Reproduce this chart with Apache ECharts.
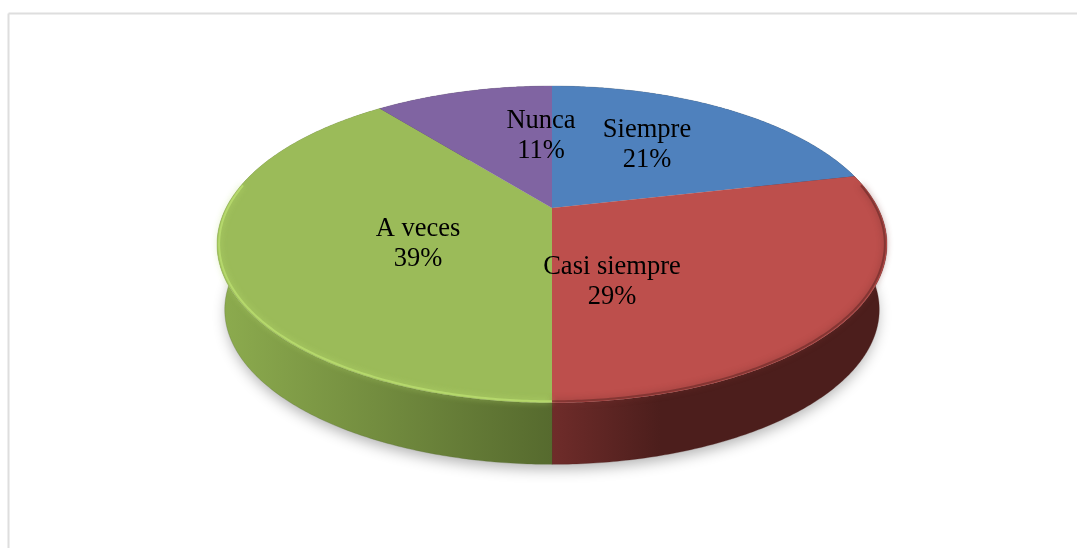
<!DOCTYPE html>
<html>
<head>
<meta charset="utf-8">
<style>html,body{margin:0;padding:0;background:#fff}#c{width:1077px;height:548px}</style>
<script src="https://cdn.jsdelivr.net/npm/echarts@6/dist/echarts.min.js"></script>
</head>
<body>
<div id="c"></div>
<script>
const categories = ['Siempre', 'Casi siempre', 'A veces', 'Nunca'];
const values = [6, 8, 11, 3];
const topColors = ['#4f81bd', '#bd4f4c', '#9bbb59', '#8064a2'];
const sideStops = [
  ['#3a5f8c', '#2c4a6e'],
  ['#6f2c2a', '#4c1e1c'],
  ['#8cab4e', '#566a2e'],
  ['#5e4a78', '#4a3a5e']
];
const rimColors = ['#6f9bd0', '#7c3330', '#b9dc6e', '#9a80bc'];
const labelCenters = [[647, 145], [612, 282], [418, 244], [541, 136]];

// Projection of the tilted disc
const CX = 552, CY = 208, HALF_W = 326, HALF_H = 150, PERSP = 0.23;
const DROP = 66, BOTTOM_SCALE = 0.977;
const total = values.reduce((a, b) => a + b, 0);

function rimPoint(angle, r, bottom) {
  const u = Math.sin(angle) * r, v = -Math.cos(angle) * r;
  const w = 1 - PERSP * v;
  const s = bottom ? BOTTOM_SCALE : 1;
  return [CX + s * HALF_W * u / w, CY + (bottom ? DROP : 0) + s * HALF_H * v / w];
}
function arc(a0, a1, r, bottom) {
  const n = Math.max(2, Math.ceil(Math.abs(a1 - a0) / 0.01));
  const pts = [];
  for (let i = 0; i <= n; i++) pts.push(rimPoint(a0 + (a1 - a0) * i / n, r, bottom));
  return pts;
}
function sideGradient(i) {
  const s = sideStops[i];
  if (i === 1) {
    return { type: 'linear', global: true, x: 552, y: 0, x2: 660, y2: 0,
      colorStops: [{ offset: 0, color: s[0] }, { offset: 1, color: s[1] }] };
  }
  return { type: 'linear', global: true, x: 222, y: 0, x2: 552, y2: 0,
    colorStops: [{ offset: 0, color: s[0] }, { offset: 1, color: s[1] }] };
}

const seriesData = categories.map((c, i) => ({ name: c, value: [i, values[i]] }));

function renderItem(params, api) {
  const i = api.value(0);
  let before = 0;
  for (let k = 0; k < i; k++) before += values[k];
  const a0 = before / total * Math.PI * 2;
  const a1 = (before + api.value(1)) / total * Math.PI * 2;
  const children = [];

  if (i === 0) {
    children.push({
      type: 'polygon', z2: 0,
      shape: { points: arc(0, Math.PI * 2, 0.995, true) },
      style: { fill: '#d8d8d8', shadowBlur: 14, shadowColor: 'rgba(0,0,0,0.3)', shadowOffsetY: 6 }
    });
  }

  const topOuter = arc(a0, a1, 1, false);
  const bottomOuter = arc(a0, a1, 1, true);
  children.push({
    type: 'polygon', z2: 1,
    shape: { points: topOuter.concat(bottomOuter.slice().reverse()) },
    style: { fill: sideGradient(i), stroke: sideStops[i][1], lineWidth: 0.3 }
  });
  children.push({
    type: 'polygon', z2: 2,
    shape: { points: [[CX, CY]].concat(topOuter) },
    style: { fill: topColors[i] }
  });

  // soft bevel along the visible front edge
  const frontStart = Math.PI * 0.45, frontEnd = Math.PI * 1.55;
  const h0 = Math.max(a0, frontStart), h1 = Math.min(a1, frontEnd);
  if (h1 > h0) {
    children.push({
      type: 'polyline', z2: 3,
      shape: { points: arc(h0, h1, 0.994, false) },
      style: { fill: null, stroke: rimColors[i], lineWidth: 2, opacity: 0.85, shadowBlur: 6, shadowColor: rimColors[i] }
    });
  }

  const lc = labelCenters[i];
  children.push({
    type: 'text', z2: 10,
    style: {
      x: lc[0], y: lc[1],
      text: categories[i] + '\n' + Math.round(api.value(1) / total * 100) + '%',
      fill: '#000', align: 'center', verticalAlign: 'middle',
      font: '26.5px "Liberation Serif"', lineHeight: 30
    }
  });
  return { type: 'group', children };
}

const chart = echarts.init(document.getElementById('c'), null, { renderer: 'canvas' });
chart.setOption({
  animation: false,
  backgroundColor: '#ffffff',
  graphic: [
    { type: 'line', silent: true, shape: { x1: 8.5, y1: 13.5, x2: 1077, y2: 13.5 }, style: { stroke: '#dedede', lineWidth: 2 } },
    { type: 'line', silent: true, shape: { x1: 8.5, y1: 13.5, x2: 8.5, y2: 548 }, style: { stroke: '#dedede', lineWidth: 2 } }
  ],
  series: [{
    type: 'custom',
    coordinateSystem: 'none',
    silent: true,
    data: seriesData,
    renderItem
  }]
});
</script>
</body>
</html>
